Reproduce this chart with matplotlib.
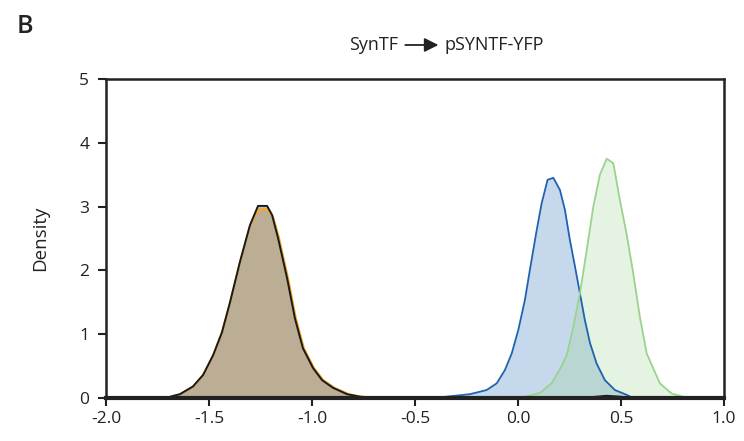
import numpy as np
import matplotlib.pyplot as plt

plt.rcParams['font.family'] = ['Open Sans', 'DejaVu Sans']

# density traces (x = log10 expression, y = density)
ctrl_x = [-1.75, -1.70, -1.641, -1.578, -1.529, -1.48, -1.437, -1.398, -1.35, -1.301,
          -1.262, -1.218, -1.194, -1.165, -1.121, -1.083, -1.044, -0.995, -0.951,
          -0.898, -0.830, -0.767, -0.70, -0.62, -0.40, 0.30, 0.38, 0.43, 0.50, 0.55, 1.0]
ctrl_y = [0.0, 0.01, 0.06, 0.18, 0.36, 0.67, 1.03, 1.50, 2.13, 2.71,
          3.01, 3.01, 2.87, 2.51, 1.88, 1.25, 0.78, 0.47, 0.28,
          0.16, 0.06, 0.02, 0.008, 0.0, 0.0, 0.0, 0.02, 0.035, 0.02, 0.0, 0.0]

orange_x = [-1.75, -1.70, -1.641, -1.578, -1.529, -1.48, -1.437, -1.398, -1.35, -1.301,
            -1.258, -1.222, -1.190, -1.160, -1.116, -1.078, -1.039, -0.990, -0.945,
            -0.890, -0.820, -0.755, -0.68, -0.60]
orange_y = [0.0, 0.01, 0.06, 0.18, 0.36, 0.67, 1.03, 1.50, 2.13, 2.70,
            2.96, 2.96, 2.85, 2.51, 1.88, 1.25, 0.78, 0.47, 0.28,
            0.16, 0.06, 0.02, 0.008, 0.0]

syntf_x = [-0.42, -0.379, -0.233, -0.152, -0.103, -0.063, -0.030, 0.002, 0.034, 0.058,
           0.091, 0.115, 0.144, 0.172, 0.204, 0.228, 0.252, 0.277, 0.301, 0.325,
           0.35, 0.382, 0.422, 0.471, 0.527, 0.56]
syntf_y = [0.0, 0.01, 0.06, 0.125, 0.23, 0.44, 0.70, 1.07, 1.54, 2.01,
           2.63, 3.05, 3.42, 3.45, 3.26, 2.95, 2.48, 2.06, 1.64, 1.22,
           0.86, 0.54, 0.28, 0.125, 0.05, 0.0]

reporter_x = [0.01, 0.107, 0.163, 0.204, 0.237, 0.269, 0.301, 0.334, 0.366, 0.398,
              0.431, 0.463, 0.495, 0.527, 0.560, 0.592, 0.625, 0.689, 0.746, 0.803, 0.82]
reporter_y = [0.0, 0.08, 0.23, 0.45, 0.67, 1.12, 1.64, 2.32, 3.00, 3.50,
              3.75, 3.68, 3.10, 2.58, 1.95, 1.27, 0.70, 0.23, 0.07, 0.02, 0.0]

fig = plt.figure(figsize=(7.44, 4.41), dpi=100)
ax = fig.add_axes([0.1425, 0.0975, 0.8305, 0.7235])

ax.fill_between(orange_x, orange_y, color='#f0a020', alpha=0.25, lw=0)
ax.fill_between(ctrl_x, ctrl_y, color='black', alpha=0.25, lw=0)
ax.plot(orange_x, orange_y, color='#f5a623', lw=1.4)
ax.plot(ctrl_x, ctrl_y, color='#1a1a1a', lw=1.4)

ax.fill_between(syntf_x, syntf_y, color='#1e64b4', alpha=0.25, lw=0)
ax.plot(syntf_x, syntf_y, color='#1f63b0', lw=1.3)
ax.fill_between(reporter_x, reporter_y, color='#96d28c', alpha=0.25, lw=0)
ax.plot(reporter_x, reporter_y, color='#9ad38e', lw=1.3)

ax.set_xlim(-2.0, 1.0)
ax.set_ylim(0, 5)
ax.set_xticks(np.arange(-2.0, 1.01, 0.5))
ax.set_xticklabels([f'{v:.1f}' for v in np.arange(-2.0, 1.01, 0.5)])
ax.set_yticks(range(6))
ax.tick_params(direction='out', length=6, width=1.5, labelsize=12.5, colors='#222222')
ax.tick_params(axis='y', pad=6)
ax.tick_params(axis='x', pad=3)
for side in ['left', 'top', 'right']:
    ax.spines[side].set_linewidth(1.8)
    ax.spines[side].set_color('#222222')
ax.spines['bottom'].set_linewidth(3)
ax.spines['bottom'].set_color('#222222')
ax.set_ylabel('Density', fontsize=13.5, labelpad=22, color='#222222')

fig.text(0.022, 0.94, 'B', fontsize=18, fontweight='semibold', color='#222222', va='center')
fig.text(0.535, 0.898, 'SynTF', fontsize=13, ha='right', va='center', color='#222222')
fig.text(0.598, 0.898, 'pSYNTF-YFP', fontsize=13, ha='left', va='center', color='#222222')
fig.patches.append(plt.matplotlib.patches.FancyArrowPatch(
    (0.541, 0.898), (0.593, 0.898), transform=fig.transFigure,
    arrowstyle='-|>,head_length=0.6,head_width=0.3', mutation_scale=14,
    color='#222222', lw=1.3))

fig.savefig('out.png', dpi=100)
